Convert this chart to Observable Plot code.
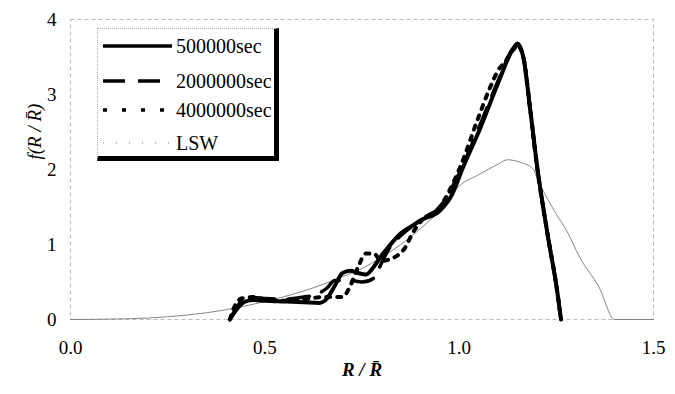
<!DOCTYPE html>
<html>
<head>
<meta charset="utf-8">
<script src="https://cdn.jsdelivr.net/npm/d3@7"></script>
<script src="https://cdn.jsdelivr.net/npm/@observablehq/plot@0.6"></script>
<style>
  body { margin: 0; background: #fff; }
  #wrap { position: relative; width: 675px; height: 394px; font-family: "Liberation Serif", "Times New Roman", Times, "DejaVu Serif", serif; }
  #wrap svg, #wrap svg text { font-family: "Liberation Serif", "Times New Roman", Times, "DejaVu Serif", serif !important; }
  #legend { position: absolute; left: 97px; top: 28px; width: 176px; height: 127px; background: #fff;
            border-left: 1px dotted #aaa; border-top: 1px dotted #aaa;
            border-right: 5px solid #000; border-bottom: 5px solid #000; }
</style>
</head>
<body>
<div id="wrap"></div>
<script>
// ---- data ----
const seriesNames = ["500000sec", "2000000sec", "4000000sec", "LSW"];

const x500k = [0.41,0.43,0.45,0.47,0.50,0.55,0.60,0.64,0.66,0.68,0.70,0.72,0.74,0.76,0.78,0.80,0.82,0.85,0.88,0.90,0.95,0.98,1.01,1.055,1.10,1.14,1.15,1.165,1.183,1.201,1.227,1.253,1.262];
const y500k = [0,0.15,0.24,0.26,0.25,0.24,0.23,0.22,0.28,0.45,0.62,0.65,0.62,0.60,0.70,0.85,0.98,1.15,1.25,1.32,1.45,1.65,2.03,2.56,3.15,3.62,3.68,3.50,2.79,2.03,1.15,0.35,0];

const x2M = [0.41,0.43,0.45,0.50,0.55,0.60,0.63,0.66,0.68,0.72,0.75,0.78,0.80,0.82,0.85,0.88,0.90,0.95,1.00,1.05,1.10,1.14,1.15,1.165,1.183,1.20,1.227,1.253,1.262];
const y2M = [0,0.18,0.30,0.28,0.27,0.30,0.33,0.42,0.52,0.52,0.50,0.55,0.75,0.95,1.12,1.25,1.33,1.50,1.95,2.55,3.18,3.62,3.65,3.50,2.79,2.05,1.15,0.35,0];

const x4M = [0.41,0.42,0.44,0.47,0.50,0.55,0.60,0.65,0.68,0.70,0.72,0.74,0.76,0.78,0.80,0.82,0.84,0.86,0.88,0.90,0.95,1.00,1.05,1.08,1.10,1.12,1.14,1.15,1.165,1.183,1.20,1.227,1.253,1.262];
const y4M = [0,0.15,0.28,0.30,0.27,0.25,0.27,0.30,0.30,0.30,0.45,0.70,0.88,0.88,0.78,0.80,0.85,0.95,1.15,1.30,1.50,2.00,2.70,3.10,3.32,3.45,3.60,3.65,3.50,2.79,2.05,1.15,0.35,0];

const xLSW = [0.00,0.10,0.20,0.30,0.40,0.50,0.60,0.70,0.75,0.80,0.85,0.90,0.95,1.00,1.05,1.10,1.124,1.16,1.19,1.20,1.24,1.28,1.31,1.36,1.40,1.50];
const yLSW = [0,0.005,0.02,0.06,0.13,0.24,0.38,0.57,0.68,0.83,1.00,1.21,1.45,1.78,1.93,2.07,2.13,2.09,2.01,1.89,1.49,1.15,0.83,0.43,0,0];

const xTicks = [0, 0.5, 1.0, 1.5];
const yTicks = [0, 1, 2, 3, 4];

const FONT = "'Liberation Serif', 'Times New Roman', Times, 'DejaVu Serif', serif";

const styles = {
  "500000sec":  {stroke: "#000", strokeWidth: 4, dash: null},
  "2000000sec": {stroke: "#000", strokeWidth: 3.5, dash: "22,13"},
  "4000000sec": {stroke: "#000", strokeWidth: 4, dash: "4,7"},
  "LSW":        {stroke: "#777", strokeWidth: 0.9, dash: null}
};

const toRows = (xs, ys, s) => xs.map((x, i) => ({x, y: ys[i], s}));
const data = {
  "500000sec": toRows(x500k, y500k, "500000sec"),
  "2000000sec": toRows(x2M, y2M, "2000000sec"),
  "4000000sec": toRows(x4M, y4M, "4000000sec"),
  "LSW": toRows(xLSW, yLSW, "LSW")
};

const lineMarks = ["LSW", "4000000sec", "2000000sec", "500000sec"].map(name =>
  Plot.line(data[name], {x: "x", y: "y", curve: "monotone-x",
    stroke: styles[name].stroke, strokeWidth: styles[name].strokeWidth,
    strokeDasharray: styles[name].dash || undefined, strokeLinejoin: "round"}));

const chart = Plot.plot({
  width: 675, height: 394,
  marginLeft: 70, marginRight: 22, marginTop: 19, marginBottom: 75,
  style: {fontFamily: FONT, fontSize: "19px", color: "#000", background: "#fff"},
  x: {domain: [0, 1.5]},
  y: {domain: [0, 4]},
  marks: [
    Plot.frame({stroke: "#aaa", strokeWidth: 0.8, strokeDasharray: "4,3"}),
    Plot.axisX({ticks: xTicks, tickFormat: d => d.toFixed(1), tickSize: 0, tickPadding: 21, label: null, fontSize: 19, fontFamily: FONT}),
    Plot.axisY({ticks: yTicks, tickFormat: d => String(d), tickSize: 0, tickPadding: 14, label: null, fontSize: 19, fontFamily: FONT}),
    ...lineMarks,
    Plot.text(["R / R\u0304"], {frameAnchor: "bottom", dy: 56, fontStyle: "italic", fontWeight: "bold", fontSize: 19, fontFamily: FONT}),
    Plot.text(["f(R / R\u0304)"], {frameAnchor: "left", dx: -36, dy: -10, rotate: -90, fontStyle: "italic", fontSize: 19, fontFamily: FONT})
  ]
});

const wrap = document.getElementById("wrap");
wrap.appendChild(chart);

// ---- legend overlay ----
const legend = document.createElement("div");
legend.id = "legend";
const ns = "http://www.w3.org/2000/svg";
const svg = document.createElementNS(ns, "svg");
svg.setAttribute("width", 176);
svg.setAttribute("height", 127);
const rowY = [17, 52, 81, 114];
seriesNames.forEach((name, i) => {
  const st = styles[name];
  const ln = document.createElementNS(ns, "line");
  ln.setAttribute("x1", 5); ln.setAttribute("x2", 74);
  ln.setAttribute("y1", rowY[i]); ln.setAttribute("y2", rowY[i]);
  ln.setAttribute("stroke", st.stroke);
  ln.setAttribute("stroke-width", name === "LSW" ? 0.9 : 3.5);
  if (name === "4000000sec") ln.setAttribute("stroke-dasharray", "4,15");
  else if (name === "LSW") ln.setAttribute("stroke-dasharray", "1,12");
  else if (st.dash) ln.setAttribute("stroke-dasharray", st.dash);
  svg.appendChild(ln);
  const t = document.createElementNS(ns, "text");
  t.setAttribute("x", 78); t.setAttribute("y", rowY[i]);
  t.setAttribute("dy", "0.35em");
  t.setAttribute("font-family", FONT);
  t.setAttribute("font-size", 20);
  t.textContent = name;
  svg.appendChild(t);
});
legend.appendChild(svg);
wrap.appendChild(legend);
</script>
</body>
</html>
